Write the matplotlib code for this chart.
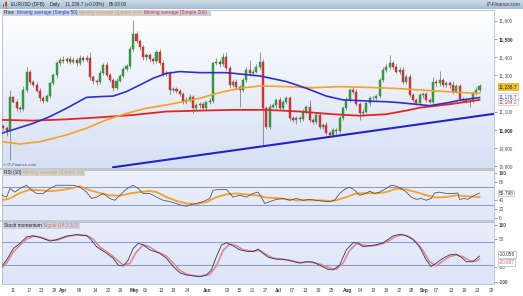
import matplotlib
matplotlib.use("Agg")
import matplotlib.pyplot as plt
import numpy as np
from matplotlib.colors import LinearSegmentedColormap
from matplotlib.patches import Rectangle

W, H = 523, 296

# ---------------------------
# DATA
# ---------------------------
first_open = 11020
closes = [
    11010, 10990, 11178, 11155, 11118, 11112, 11220, 11320, 11265, 11246, 11215, 11173,
    11160, 11185, 11255, 11300, 11365, 11385, 11378, 11390, 11375, 11385, 11368, 11392,
    11382, 11395, 11290, 11270, 11260, 11314, 11356, 11300, 11273, 11228, 11270, 11296,
    11332, 11350, 11442, 11527, 11490, 11454, 11398, 11411, 11388, 11376, 11426, 11369,
    11307, 11314, 11219, 11222, 11215, 11197, 11155, 11164, 11182, 11118, 11136, 11140,
    11120, 11150, 11160, 11365, 11375, 11360, 11400, 11338, 11246, 11265, 11237, 11220,
    11274, 11329, 11310, 11320, 11347, 11375, 11118, 11017, 11127, 11136, 11164, 11120,
    11154, 11173, 11063, 11054, 11063, 11058, 11100, 11127, 11054, 11044, 11081, 11017,
    11026, 10980, 10971, 10999, 10990, 11063, 11118, 11164, 11219, 11210, 11140, 11090,
    11100, 11145, 11173, 11175, 11187, 11274, 11329, 11347, 11366, 11347, 11320, 11330,
    11265, 11292, 11191, 11164, 11146, 11190, 11195, 11162, 11155, 11265, 11255, 11274,
    11246, 11255, 11246, 11210, 11240, 11170, 11165, 11155, 11160, 11200, 11220, 11238,
]
wick_up = [
    10, 12, 42, 10, 14, 12, 20, 25, 12, 10, 14, 12,
    10, 12, 10, 14, 12, 15, 18, 12, 14, 16, 12, 18,
    14, 15, 30, 12, 10, 14, 12, 15, 12, 10, 14, 12,
    12, 14, 20, 77, 15, 12, 14, 12, 10, 14, 12, 16,
    12, 14, 10, 12, 14, 10, 12, 14, 12, 10, 12, 14,
    12, 10, 14, 10, 18, 12, 20, 25, 12, 14, 12, 10,
    12, 14, 55, 12, 14, 55, 12, 10, 14, 12, 10, 14,
    12, 10, 15, 12, 10, 12, 14, 10, 37, 12, 14, 10,
    12, 14, 10, 12, 10, 12, 10, 14, 12, 18, 12, 10,
    12, 10, 14, 12, 10, 10, 18, 12, 45, 14, 12, 16,
    15, 12, 14, 10, 12, 14, 12, 10, 12, 25, 12, 50,
    12, 14, 12, 20, 14, 12, 10, 12, 10, 12, 14, 15,
]
wick_dn = [
    12, 25, 157, 10, 14, 16, 10, 12, 14, 12, 10, 14,
    12, 10, 12, 10, 14, 12, 12, 10, 14, 12, 16, 12,
    10, 12, 14, 16, 12, 10, 14, 12, 10, 14, 12, 10,
    12, 10, 12, 10, 12, 14, 16, 12, 14, 12, 10, 14,
    12, 10, 20, 12, 14, 10, 14, 12, 10, 25, 12, 14,
    12, 14, 10, 12, 10, 14, 12, 10, 14, 12, 16, 93,
    12, 10, 14, 12, 10, 12, 202, 16, 12, 10, 14, 12,
    10, 12, 14, 12, 20, 14, 10, 12, 14, 12, 10, 14,
    12, 10, 10, 12, 14, 10, 12, 10, 14, 12, 12, 36,
    14, 10, 12, 10, 12, 14, 10, 12, 14, 12, 10, 12,
    14, 12, 10, 14, 12, 10, 14, 12, 10, 12, 14, 12,
    10, 12, 14, 12, 10, 14, 12, 10, 28, 12, 10, 12,
]

ma50_idx = [-0.5, 9, 14, 19, 25, 29, 33, 37, 41, 45, 49, 53, 59, 67, 77, 85, 91, 97,
            102, 109, 115, 119, 125, 128, 134, 137, 143]
ma50_val = [10980, 11035, 11072, 11118, 11178, 11182, 11185, 11210, 11246, 11283, 11310,
            11320, 11314, 11314, 11296, 11265, 11228, 11185, 11164, 11158, 11154, 11149,
            11138, 11132, 11150, 11162, 11177]

ma100_idx = [-0.5, 5, 11, 19, 25, 31, 37, 43, 49, 55, 59, 65, 71, 77, 85, 93, 101, 109,
             117, 125, 131, 137, 143]
ma100_val = [10934, 10921, 10934, 10971, 11008, 11054, 11090, 11118, 11136, 11158, 11173,
             11204, 11228, 11241, 11237, 11231, 11237, 11233, 11228, 11219, 11212, 11205,
             11200]

ma200_idx = [-0.5, 9, 19, 29, 39, 49, 59, 69, 79, 89, 99, 107, 115, 121, 125, 134, 143]
ma200_val = [11054, 11050, 11057, 11068, 11081, 11100, 11105, 11109, 11109, 11100, 11085,
             11077, 11085, 11105, 11121, 11140, 11164]

trend_idx = [33, 148]
trend_val = [10793, 11089]

rsi_idx = [-0.5, 1, 2, 3.5, 5, 7, 8.5, 10, 12, 14, 16, 19, 21, 23, 25, 26.5, 28, 30, 32,
           33.5, 35, 37, 39, 40.5, 42, 44, 46, 48, 50, 52, 53.5, 55, 56.5, 58, 60, 62, 63,
           65, 67, 68, 69, 71, 73, 75, 76.5, 77.5, 78.5, 80, 82, 84, 86, 88, 90, 92, 94,
           96, 98, 99.5, 101, 102.5, 104, 105.5, 107, 109, 110, 111.5, 113, 115, 116.5,
           118, 119.5, 121, 122.5, 124, 125.5, 127, 128.5, 129.5, 131, 133, 135, 136.5,
           137, 138.5, 139.5, 140.5, 141.5, 143]
rsi_val = [51, 47, 66, 58, 66, 73, 62, 55, 55, 66, 73, 73, 73, 69, 58, 44, 47, 55, 44,
           40, 51, 65, 73, 66, 55, 55, 47, 40, 37, 33, 29, 27, 31, 33, 37, 44, 62,
           64, 64, 55, 47, 51, 47, 55, 58, 47, 33, 37, 42, 44, 40, 44, 40, 42, 40,
           38, 37, 40, 55, 64, 69, 62, 51, 55, 60, 55, 58, 66, 73,
           71, 66, 58, 47, 42, 44, 40, 44, 56, 58, 55, 55, 56,
           42, 44, 42, 47, 51, 55.8]

rsi_ma_idx = [-0.5, 2, 5, 8, 11, 14, 17, 20, 23, 26, 29, 32, 35, 38, 41, 44, 46, 49, 52,
              55, 58, 61, 64, 67, 70, 73, 76, 79, 82, 85, 88, 91, 95, 98, 100, 103, 106,
              109, 112, 115, 118, 121, 124, 127, 130, 133, 136, 139, 143]
rsi_ma_val = [40, 44, 56, 63.5, 62, 60, 62, 65.6, 70.6, 62, 56, 51, 50, 55, 58, 60.4, 58,
              47, 38.7, 33, 32, 36, 47, 53, 55, 53, 51, 46, 45, 42.4, 40, 40, 40, 38.7,
              40, 47, 55, 56, 55, 58, 65.6, 63.5, 58, 51, 46, 47, 51, 49, 47]

stoch_idx = [-0.5, 1, 3, 5, 7, 9, 11, 14, 16, 19, 22, 25, 26, 28, 31, 33, 34.5, 36, 37.5,
             39, 40.5, 42, 44, 47, 49, 51, 53, 55, 57, 59, 61, 62.5, 64, 65.5, 67, 69, 71,
             73.5, 75, 76.5, 78, 79.5, 82, 84, 86, 89, 91, 93, 95, 97.5, 99, 101, 103,
             105, 106.5, 108, 110, 112, 114, 115.5, 117, 119, 121, 123, 125, 127, 128.5,
             130, 132, 134, 136, 137.5, 139, 141, 143]
stoch_val = [-47, -24, 17, 35, 58, 62, 56, 43, 48, 61, 66, 62, 53, 23, 0, -18, -42, -45,
             -24, 17, 35, 30, 12, 0, -18, -47, -69, -77, -80, -83, -77, -59, -12, 29, 37,
             26, 12, 6, 6, 15, 0, -14, -21, -21, -26, -35, -30, -31, -42, -57, -59, -42,
             12, 37, 37, 23, 27, 30, 37, 49, 61, 67, 62, 49, 23, -24, -47, -35, -18, -6,
             -3, -14, -30, -30, -10.056]

signal_idx = [-0.5, 1, 3, 5, 7, 9, 11, 14, 16, 19, 22, 25, 27, 29, 32, 34, 36, 38, 40, 42,
              44, 46, 49, 51, 53, 55, 57, 59, 62, 64, 66, 68, 70, 72, 75, 77, 79, 81, 84,
              86, 89, 92, 95, 98, 100, 102, 104, 106, 108, 110, 112, 114, 116, 118, 120,
              122, 124, 126, 128, 130, 132, 134, 136, 138, 140, 142, 143]
signal_val = [-52, -35, 5, 28, 50, 60, 58, 46, 46, 58, 65, 63, 50, 22, -2, -22, -42, -36,
              5, 30, 22, 6, -10, -35, -60, -74, -79, -82, -75, -45, 10, 33, 27, 12, 7, 10,
              -5, -17, -22, -25, -33, -31, -38, -52, -57, -35, 10, 33, 30, 25, 28, 34, 46,
              60, 66, 58, 40, 10, -30, -45, -28, -12, -6, -12, -26, -28, -20.607]

tick_idx = [3, 7.7, 11.3, 15.2, 17.9, 23, 27.5, 31.4, 35.3, 39.2, 42.8, 47.4, 51, 55.2,
            61.2, 67.2, 70.8, 74.7, 78.6, 82.5, 86.7, 90.6, 94.5, 98.4, 103.5, 107.1,
            111, 114.9, 118.8, 122.7, 126.3, 130.2, 134.4, 138.3, 142.3, 146.5]
tick_lbl = ["11", "17", "23", "29", "Apr", "08", "14", "20", "26", "May", "06", "12",
            "18", "24", "Jun", "09", "15", "21", "27", "Jul", "07", "13", "19", "25",
            "Aug", "04", "10", "16", "22", "28", "Sep", "07", "13", "19", "23", "29"]
months = {"Apr", "May", "Jun", "Jul", "Aug", "Sep"}

price_ticks = [11600, 11500, 11400, 11300, 11100, 11000, 10900, 10800]
price_bold = {11500, 11000}

# ---------------------------
# STYLE
# ---------------------------
plt.rcParams["font.family"] = ["Liberation Sans", "DejaVu Sans"]
FS = 3.4
C_BLUE = "#2f2fcc"
C_ORANGE = "#f6a02e"
C_RED = "#e02626"
C_GREEN_C = "#3a9e45"
C_RED_C = "#d43a3a"
C_HLINE = "#7884ee"
C_TXT = "#555555"


def box(x0, y0, x1, y1):
    return [x0 / W, 1 - y1 / H, (x1 - x0) / W, (y1 - y0) / H]


def gradient(ax, top, bottom):
    cmap = LinearSegmentedColormap.from_list("g", [top, bottom])
    g = np.linspace(0, 1, 256).reshape(-1, 1)
    ax.imshow(g, cmap=cmap, extent=[0, 1, 0, 1], transform=ax.transAxes,
              aspect="auto", origin="upper", zorder=0)


def style_panel(ax, ylim):
    ax.set_xlim(-0.39, 147.35)
    ax.set_ylim(*ylim)
    ax.set_xticks([])
    ax.yaxis.tick_right()
    ax.tick_params(axis="y", length=2, width=0.4, labelsize=FS, colors=C_TXT, pad=1.5)
    for s in ax.spines.values():
        s.set_linewidth(0.5)
        s.set_color("#a8b0bc")


fig = plt.figure(figsize=(W / 100, H / 100), dpi=100)
fig.patch.set_facecolor("white")

# ---------------------------
# PRICE PANEL
# ---------------------------
ax = fig.add_axes(box(2, 10, 494, 168))
ax.set_autoscale_on(False)
gradient(ax, "#ffffff", "#d6e0f4")

n = len(closes)
idx = np.arange(n)
c = np.array(closes, dtype=float)
o = np.array([first_open] + closes[:-1], dtype=float)
hi = np.maximum(o, c) + np.array(wick_up)
lo = np.minimum(o, c) - np.array(wick_dn)
up = c >= o

ax.vlines(idx, lo, hi, color="#6f6f6f", lw=0.5, zorder=2)
body = np.maximum(np.abs(c - o), 3)
ax.bar(idx[up], body[up], bottom=o[up], width=0.62, color=C_GREEN_C,
       edgecolor="#2d7a36", linewidth=0.3, zorder=3)
ax.bar(idx[~up], body[~up], bottom=c[~up], width=0.62, color=C_RED_C,
       edgecolor="#a52a2a", linewidth=0.3, zorder=3)

ax.plot(ma200_idx, ma200_val, color=C_RED, lw=1.3, zorder=4)
ax.plot(ma100_idx, ma100_val, color=C_ORANGE, lw=1.2, zorder=4)
ax.plot(ma50_idx, ma50_val, color=C_BLUE, lw=1.2, zorder=4)
ax.plot(trend_idx, trend_val, color="#2323c8", lw=1.5, zorder=4, clip_on=True)

style_panel(ax, (10789, 11659))
ax.set_yticks(price_ticks)
ax.set_yticklabels([f"{v:,}" for v in price_ticks])
for lab, v in zip(ax.get_yticklabels(), price_ticks):
    if v in price_bold:
        lab.set_fontweight("bold")
        lab.set_color("#333333")

lbl_kw = dict(xycoords=ax.get_yaxis_transform(), textcoords="offset points",
              fontsize=FS, va="center", ha="left", annotation_clip=False)
ax.annotate(f"{closes[-1] + 0.7:,.1f}", xy=(1, closes[-1]), xytext=(3.5, 0),
            color="#222222",
            bbox=dict(boxstyle="square,pad=0.15", fc="#f3c22c", ec="#c99a10", lw=0.4),
            **lbl_kw)
ax.annotate(f"{ma50_val[-1] - 0.3:,.1f}", xy=(1, ma50_val[-1]), xytext=(3.5, 0.6),
            color=C_BLUE,
            bbox=dict(boxstyle="square,pad=0.15", fc="white", ec="#b0b8c8", lw=0.4),
            **lbl_kw)
ax.annotate(f"{ma200_val[-1] + 0.2:,.1f}", xy=(1, ma200_val[-1]), xytext=(3.5, -1.6),
            color=C_RED,
            bbox=dict(boxstyle="square,pad=0.15", fc="white", ec="#b0b8c8", lw=0.4),
            **lbl_kw)

# ---------------------------
# RSI PANEL
# ---------------------------
ax2 = fig.add_axes(box(2, 169.5, 494, 220))
ax2.set_autoscale_on(False)
gradient(ax2, "#edf1fb", "#dfe7f8")
ax2.axhline(70, color=C_HLINE, lw=0.6, zorder=1)
ax2.axhline(30, color=C_HLINE, lw=0.6, zorder=1)
ax2.plot(rsi_ma_idx, rsi_ma_val, color=C_ORANGE, lw=1.3, zorder=3)
ax2.plot(rsi_idx, rsi_val, color="#4d4d55", lw=0.55, zorder=4)
style_panel(ax2, (-3.3, 107.6))
ax2.set_yticks([100, 80, 40, 20, 0])
ax2.set_yticklabels(["100", "80", "40", "20", "0"])
ax2.get_yticklabels()[0].set_fontweight("bold")
ax2.annotate(f"{rsi_val[-1] - 0.002:.3f}", xy=(1, rsi_val[-1]), xytext=(3.5, 0),
             xycoords=ax2.get_yaxis_transform(), textcoords="offset points",
             fontsize=FS, va="center", ha="left", color="#333333",
             annotation_clip=False,
             bbox=dict(boxstyle="square,pad=0.15", fc="white", ec="#9aa2b0", lw=0.4))

# ---------------------------
# STOCH MOMENTUM PANEL
# ---------------------------
ax3 = fig.add_axes(box(2, 222, 494, 284))
ax3.set_autoscale_on(False)
gradient(ax3, "#e9eefb", "#dce5f8")
ax3.axhline(40, color=C_HLINE, lw=0.6, zorder=1)
ax3.axhline(-40, color=C_HLINE, lw=0.6, zorder=1)
ax3.plot(signal_idx, signal_val, color="#e58a8a", lw=1.2, zorder=3)
ax3.plot(stoch_idx, stoch_val, color="#34345e", lw=0.6, zorder=4)
style_panel(ax3, (-108.8, 110.6))
ax3.set_yticks([100, 50, -50, -100])
ax3.set_yticklabels(["100", "50", "-50", "-100"])
ax3.get_yticklabels()[0].set_fontweight("bold")
ax3.get_yticklabels()[3].set_fontweight("bold")
ax3.annotate(f"{stoch_val[-1]:.3f}", xy=(1, stoch_val[-1]), xytext=(3.5, 1.2),
             xycoords=ax3.get_yaxis_transform(), textcoords="offset points",
             fontsize=FS, va="center", ha="left", color="#333333",
             annotation_clip=False,
             bbox=dict(boxstyle="square,pad=0.15", fc="white", ec="#9aa2b0", lw=0.4))
ax3.annotate(f"{signal_val[-1]:.3f}", xy=(1, signal_val[-1]), xytext=(3.5, -2.5),
             xycoords=ax3.get_yaxis_transform(), textcoords="offset points",
             fontsize=FS, va="center", ha="left", color="#d85a5a",
             annotation_clip=False,
             bbox=dict(boxstyle="square,pad=0.15", fc="white", ec="#9aa2b0", lw=0.4))

ax3.set_xticks(tick_idx)
ax3.set_xticklabels(tick_lbl)
ax3.tick_params(axis="x", length=0, pad=3.2, labelsize=FS, colors="#444444")
for lab in ax3.get_xticklabels():
    if lab.get_text() in months:
        lab.set_fontweight("bold")
        lab.set_color("#333333")

# ---------------------------
# HEADER / LABEL OVERLAY
# ---------------------------
ov = fig.add_axes([0, 0, 1, 1], zorder=10)
ov.patch.set_alpha(0)
hdr = LinearSegmentedColormap.from_list("h", ["#d3e0ec", "#a5bbd0"])
ov.imshow(np.linspace(0, 1, 64).reshape(-1, 1), cmap=hdr, extent=[0, W, 9.5, 0],
          aspect="auto", origin="upper")
ov.set_xlim(0, W)
ov.set_ylim(H, 0)
ov.axis("off")

renderer = fig.canvas.get_renderer()


def chain(x, y, parts, fs, gap, **kw):
    # lay texts out one after another, return the right end in pixels
    for s, col in parts:
        t = ov.text(x, y, s, fontsize=fs, color=col, va="center", ha="left",
                    zorder=5, **kw)
        bb = t.get_window_extent(renderer)
        x = bb.x1 + gap
    return x - gap


ov.add_patch(Rectangle((0, 168), 494, 1.5, fc="#c2c7d0", ec="none"))
ov.add_patch(Rectangle((0, 220), 494, 2, fc="#c2c7d0", ec="none"))

# small candle icon in the header
ov.add_patch(Rectangle((2.5, 3.5), 1.8, 3.5, fc="#2e9e3e", ec="none"))
ov.add_patch(Rectangle((5.2, 2.0), 1.8, 4.0, fc="#d43a3a", ec="none"))
ov.plot([6.1, 6.1], [1.0, 8.0], color="#d43a3a", lw=0.4)

chain(11, 4.8, [("EURUSD (DFB)", "#1e2a38"), ("Daily", "#1e2a38"),
                ("11,238.7 (+0.03%)", "#1e2a38"), ("05:03:00", "#1e2a38")],
      3.4, 5)
ov.text(521, 4.8, "IT-Finance.com", fontsize=3.5, va="center", ha="right",
        color="#2a3440", style="italic")

end = chain(4, 12.8, [("Price", "#222222"),
                      ("Moving average (Simple 50)", "#3a3ad0"),
                      ("Moving average (Simple 100)", "#f0a030"),
                      ("Moving average (Simple 200)", "#e03030")], FS, 1.8)
ov.add_patch(Rectangle((2, 9.5), end + 2, 6.5, fc="#c9d1dc", ec="none", zorder=1))

end = chain(3.5, 172.6, [("RSI (10)", "#222222"),
                         ("Moving average (Simple 10)", "#f0a030")], FS, 1.8)
ov.add_patch(Rectangle((2, 169.5), end - 0.5, 6, fc="#c9d1dc", ec="none", zorder=1))

end = chain(3.5, 225.6, [("Stoch momentum", "#222222"),
                         ("Signal (14,3,3,3)", "#e07878")], FS, 1.8)
ov.add_patch(Rectangle((2, 222.5), end - 0.5, 6, fc="#c9d1dc", ec="none", zorder=1))

ov.text(3, 164.5, "\u00a9 IT-Finance.com", fontsize=3.1, va="center", ha="left",
        color="#555555")

fig.savefig("out.png", dpi=100)
plt.close(fig)
